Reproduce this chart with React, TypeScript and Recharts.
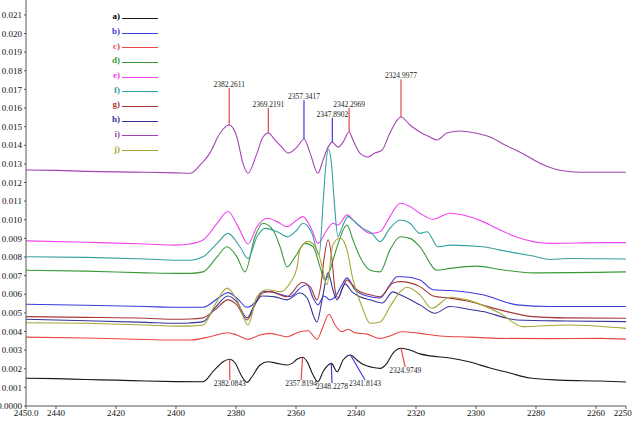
import { LineChart, Line, XAxis, YAxis, Legend, ReferenceLine, ReferenceDot } from "recharts";

type Pt = [number, number];

// [wavenumber cm-1, absorbance x10^3]
const spectrumA: Pt[] = [
  [2450, 1.49], [2440, 1.47], [2430, 1.42], [2420, 1.39], [2410, 1.34], [2400, 1.31], [2391, 1.3],
  [2387.7, 1.84], [2384.3, 2.38], [2382.1, 2.51], [2380.3, 2.31], [2378, 1.57], [2376.3, 1.27],
  [2374.7, 1.57], [2372, 2.2], [2369.3, 2.38], [2366.3, 2.29], [2363, 2.2], [2361.3, 2.29],
  [2359.7, 2.51], [2357.8, 2.62], [2356.3, 2.38], [2354.3, 1.66], [2352.7, 1.3], [2351, 1.84],
  [2348.2, 2.29], [2346.3, 1.84], [2344.3, 2.47], [2341.8, 2.74], [2339.7, 2.47], [2337.7, 2.24],
  [2334.7, 2.08], [2332, 2.02], [2329.7, 2.29], [2327.7, 2.83], [2325, 3.1], [2322, 3.01],
  [2318.7, 2.8], [2315.3, 2.69], [2308.7, 2.58], [2302, 2.36], [2295.3, 2.04], [2288.7, 1.77],
  [2282, 1.5], [2272, 1.39], [2258.7, 1.34], [2250, 1.29],
];

const spectrumB: Pt[] = [
  [2450, 5.46], [2430, 5.41], [2410, 5.34], [2400, 5.3], [2395.3, 5.3], [2391, 5.3], [2385.3, 5.87],
  [2382.7, 6.09], [2379.7, 5.79], [2376.3, 5.3], [2373, 5.7], [2371.3, 6.14], [2368.7, 6.14],
  [2364.7, 5.97], [2362, 5.87], [2358, 6.41], [2356.3, 6.51], [2354.3, 5.8], [2352.7, 5.43],
  [2350.7, 5.91], [2348.7, 5.7], [2346.7, 5.91], [2344.7, 6.51], [2343, 6.88], [2340.3, 6.24],
  [2336.3, 5.91], [2332, 5.8], [2328.7, 6.51], [2326.3, 6.94], [2324.3, 6.94], [2318.7, 6.77],
  [2314.3, 6.24], [2308.7, 6.2], [2297.7, 5.97], [2286.3, 5.43], [2275.3, 5.34], [2250, 5.34],
];

const spectrumC: Pt[] = [
  [2450, 3.7], [2430, 3.65], [2410, 3.57], [2400, 3.54], [2395.3, 3.54], [2388.7, 3.72], [2382.7, 3.93],
  [2379.7, 3.81], [2376, 3.58], [2372, 3.81], [2368.7, 3.9], [2363, 3.72], [2358.7, 3.99], [2356, 4.04],
  [2353, 3.58], [2351, 4.26], [2349, 4.93], [2347, 4.35], [2344.7, 3.99], [2342.7, 4.12], [2340.3, 3.93],
  [2336.3, 3.86], [2332, 3.63], [2328.7, 3.76], [2324.7, 3.99], [2318.7, 3.9], [2312, 3.76],
  [2302, 3.7], [2292, 3.63], [2275.3, 3.62], [2258.7, 3.63], [2250, 3.59],
];

const spectrumD: Pt[] = [
  [2450, 7.29], [2430, 7.24], [2410, 7.15], [2400, 7.12], [2395.3, 7.12], [2391, 7.2], [2386.3, 8.01],
  [2383, 8.55], [2379.7, 8.01], [2377, 7.2], [2373.7, 9.09], [2371, 9.81], [2367.7, 9.45], [2365.3, 8.55],
  [2363, 7.47], [2360.3, 8.01], [2357, 8.73], [2354.3, 8.55], [2352, 7.47], [2350.3, 6.75], [2348.7, 7.29],
  [2346.3, 8.55], [2343, 9.72], [2341, 8.91], [2338.7, 8.01], [2335.3, 7.29], [2332, 7.2], [2328.7, 8.37],
  [2325.3, 9.09], [2322, 9.0], [2318.7, 8.55], [2313, 7.29], [2308.7, 7.39], [2299.7, 7.51],
  [2292, 7.33], [2281, 7.15], [2250, 7.2],
];

const spectrumE: Pt[] = [
  [2450, 8.87], [2430, 8.79], [2410, 8.7], [2400, 8.64], [2395.3, 8.7], [2391, 8.91], [2386.3, 9.81],
  [2382.7, 10.44], [2379.3, 9.63], [2376, 8.7], [2373, 9.63], [2369.7, 10.08], [2366.3, 9.9], [2363, 9.63],
  [2359.7, 9.99], [2357.7, 10.17], [2354.7, 9.45], [2352.7, 8.73], [2349.7, 9.45], [2347.7, 9.81],
  [2346, 9.72], [2343, 10.26], [2341, 9.99], [2338.7, 9.63], [2335.3, 9.27], [2332, 9.36], [2328.7, 10.17],
  [2325.3, 10.89], [2322, 10.71], [2318.7, 10.35], [2314.3, 10.03], [2308.7, 10.35], [2303, 10.2],
  [2297.7, 9.9], [2292, 9.45], [2286.3, 9.06], [2275.3, 8.73], [2258.7, 8.77], [2250, 8.77],
];

const spectrumF: Pt[] = [
  [2450, 8.01], [2430, 7.98], [2410, 7.89], [2400, 7.83], [2395.3, 7.83], [2391, 8.01], [2386.3, 8.73],
  [2382.7, 9.27], [2378.7, 8.55], [2376, 7.92], [2373, 9.09], [2370.3, 9.54], [2366.3, 9.36], [2362.7, 9.09],
  [2359.7, 9.45], [2357.7, 9.81], [2354.7, 9.27], [2352.3, 8.1], [2350.9, 11.07], [2350.1, 12.86],
  [2349.2, 13.8], [2348.1, 12.86], [2347.3, 11.07], [2346, 9.09], [2344.7, 9.56], [2342.7, 10.17],
  [2340.3, 9.88], [2337.7, 9.54], [2334.7, 9.27], [2332, 8.82], [2328.7, 9.54], [2325.3, 9.99], [2322, 9.81],
  [2318.7, 9.27], [2316.3, 9.36], [2312.7, 8.55], [2308.7, 8.64], [2297.7, 8.55], [2292, 8.37],
  [2281, 8.05], [2275.3, 7.87], [2269.7, 7.92], [2250, 7.89],
];

const spectrumG: Pt[] = [
  [2450, 4.8], [2430, 4.76], [2410, 4.71], [2400, 4.66], [2395.3, 4.67], [2391, 4.73], [2387, 5.16],
  [2382.7, 5.7], [2379.7, 5.43], [2376.3, 4.62], [2373.7, 5.43], [2371.3, 6.06], [2368.7, 6.14], [2363, 5.87],
  [2358, 6.63], [2355.3, 6.41], [2353, 5.7], [2351.7, 6.51], [2350.7, 7.85], [2349.3, 8.93], [2348, 7.85],
  [2347, 6.24], [2346, 5.8], [2344.7, 6.24], [2343, 6.77], [2341.3, 6.51], [2339.7, 6.24], [2335.3, 5.97],
  [2332, 5.87], [2327.7, 6.6], [2325.3, 6.68], [2318.7, 6.41], [2314.3, 5.91], [2308.7, 5.79], [2303, 5.64],
  [2292, 5.16], [2281, 4.8], [2269.7, 4.73], [2250, 4.71],
];

const spectrumH: Pt[] = [
  [2450, 4.66], [2430, 4.58], [2410, 4.49], [2400, 4.44], [2395.3, 4.46], [2391, 4.53], [2387, 5.27],
  [2382.7, 5.91], [2379.7, 5.59], [2376.3, 4.73], [2373.7, 5.48], [2371.3, 5.91], [2367, 5.86], [2363, 5.7],
  [2358.7, 6.07], [2356.3, 5.8], [2353, 4.51], [2351.3, 5.7], [2349.3, 7.15], [2347.7, 6.24], [2346.3, 5.7],
  [2343.7, 6.56], [2341.3, 6.13], [2338.7, 5.86], [2335.3, 5.7], [2331.3, 5.53], [2327.7, 6.13],
  [2325.3, 5.97], [2318.7, 5.43], [2313.7, 4.98], [2308.7, 5.34], [2303, 5.21], [2297.7, 5.07],
  [2286.3, 4.62], [2269.7, 4.56], [2250, 4.53],
];

const spectrumI: Pt[] = [
  [2450, 12.67], [2440, 12.65], [2430, 12.6], [2420, 12.57], [2410, 12.55], [2400, 12.52], [2395.3, 12.5],
  [2392, 12.93], [2388.7, 13.58], [2385.3, 14.66], [2382.3, 15.09], [2379.7, 14.44], [2377.7, 13.04],
  [2376, 12.5], [2373, 13.58], [2371, 14.44], [2369.2, 14.66], [2367, 14.28], [2364.7, 13.9], [2362.7, 13.58],
  [2359.7, 13.9], [2357.3, 14.34], [2355.3, 13.58], [2352.7, 12.5], [2351, 13.2], [2349.3, 13.9],
  [2347.9, 14.17], [2346, 13.9], [2344.3, 14.17], [2342.3, 14.71], [2341, 14.28], [2338.7, 13.58],
  [2336, 13.37], [2333.7, 13.58], [2331.3, 13.74], [2328.7, 14.66], [2325, 15.52], [2322, 15.09],
  [2318.7, 14.71], [2315.3, 14.44], [2313, 14.28], [2309.7, 14.66], [2305.3, 14.77], [2300.3, 14.66],
  [2295.3, 14.44], [2290.3, 14.01], [2285.3, 13.63], [2278.7, 13.04], [2272, 12.66], [2265.3, 12.55],
  [2250, 12.55],
];

const spectrumJ: Pt[] = [
  [2450, 4.47], [2430, 4.44], [2410, 4.35], [2400, 4.29], [2395.3, 4.29], [2391, 4.35], [2387, 5.43],
  [2383, 6.33], [2379.7, 5.7], [2376, 4.35], [2373, 5.87], [2369.7, 6.24], [2365, 6.14], [2362, 6.6],
  [2359.7, 7.4], [2358.7, 8.39], [2356, 8.84], [2353, 8.39], [2351.3, 7.49], [2349.7, 6.51], [2347.7, 8.66],
  [2345.3, 9.02], [2343, 8.39], [2341, 6.77], [2338, 5.33], [2335.3, 4.44], [2332, 4.51], [2328.7, 5.33],
  [2325.3, 6.13], [2323, 6.38], [2318.7, 5.97], [2314.7, 5.25], [2308.7, 5.84], [2303, 5.7], [2292, 4.98],
  [2284.3, 4.26], [2269.7, 4.35], [2250, 4.17],
];

const wnTicks = [2450, 2440, 2420, 2400, 2380, 2360, 2340, 2320, 2300, 2280, 2260, 2250];
const absTicks = [
  0, 0.001, 0.002, 0.003, 0.004, 0.005, 0.006, 0.007, 0.008, 0.009, 0.01,
  0.011, 0.012, 0.013, 0.014, 0.015, 0.016, 0.017, 0.018, 0.019, 0.02, 0.021,
];

// peak positions marked on the i) and a) traces
const upperPeaks = [2382.2611, 2369.2191, 2357.3417, 2347.8902, 2342.2969, 2324.9977];
const lowerPeaks = [2382.0843, 2357.8194, 2348.2278, 2341.8143, 2324.9749];

const RED = "#e5484a";
const BLUE = "#3b3be0";
const FONT = '"Liberation Serif", "Times New Roman", serif';

const series = [
  { name: "a)", points: spectrumA, color: "#1a1a1a" },
  { name: "b)", points: spectrumB, color: "#3c3cdc" },
  { name: "c)", points: spectrumC, color: "#e84545" },
  { name: "d)", points: spectrumD, color: "#3a9a3a" },
  { name: "e)", points: spectrumE, color: "#ee44ee" },
  { name: "f)", points: spectrumF, color: "#35a0a0" },
  { name: "g)", points: spectrumG, color: "#a83838" },
  { name: "h)", points: spectrumH, color: "#35359a" },
  { name: "i)", points: spectrumI, color: "#a443b4" },
  { name: "j)", points: spectrumJ, color: "#a6a638" },
];

// callout geometry: line end height (x10^3) and where the line ends on the x axis
const upperCallouts = [
  { color: RED, top: 17.07 },
  { color: RED, top: 16.0 },
  { color: BLUE, top: 16.42 },
  { color: BLUE, top: 15.46 },
  { color: RED, top: 16.0 },
  { color: RED, top: 17.55 },
];
const lowerCallouts = [
  { color: RED, end: 2382.0843, bottom: 1.4 },
  { color: RED, end: 2358.3, bottom: 1.4 },
  { color: BLUE, end: 2348.0, bottom: 1.23 },
  { color: BLUE, end: 2337.0, bottom: 1.4 },
  { color: RED, end: 2323.6, bottom: 2.09 },
];

const toRows = (pts: Pt[]) => pts.map(([wn, milli]) => ({ wn, abs: milli / 1000 }));

const heightAt = (pts: Pt[], wn: number) => {
  let best = pts[0];
  for (const p of pts) if (Math.abs(p[0] - wn) < Math.abs(best[0] - wn)) best = p;
  return best[1] / 1000;
};

function SeriesKey({ payload }: any) {
  return (
    <div style={{ fontFamily: FONT, fontSize: 9, fontWeight: "bold" }}>
      {(payload ?? []).map((item: any) => (
        <div key={item.value} style={{ display: "flex", alignItems: "center", height: 14.7 }}>
          <span style={{ width: 20, textAlign: "right", color: item.value === "a)" ? "#000" : item.color }}>
            {item.value}
          </span>
          <span style={{ width: 36, height: 4, marginLeft: 2, borderBottom: `1px solid ${item.color}` }} />
        </div>
      ))}
    </div>
  );
}

const tickStyle = { fontSize: 9, fill: "#111", fontFamily: FONT };

export default function App() {
  return (
    <div style={{ position: "fixed", left: 0, top: 0, width: 632, height: 426, background: "#fff" }}>
      <LineChart width={632} height={426} margin={{ top: 0, right: 6, bottom: 0, left: 0 }}>
        <XAxis
          dataKey="wn"
          type="number"
          domain={[2250, 2450]}
          reversed
          ticks={wnTicks}
          interval={0}
          tickFormatter={(v: number) => (v === 2450 || v === 2250 ? v.toFixed(1) : String(v))}
          tick={tickStyle}
          tickSize={3}
          tickMargin={1}
          height={20}
          stroke="#555"
          allowDataOverflow
        />
        <YAxis
          type="number"
          domain={[0, 0.0218]}
          ticks={absTicks}
          interval={0}
          tickFormatter={(v: number) => (v === 0 ? "0.0000" : v.toFixed(3))}
          tick={tickStyle}
          tickSize={2}
          tickMargin={2}
          width={26}
          stroke="#555"
          allowDataOverflow
        />
        <Legend
          content={SeriesKey}
          layout="vertical"
          align="center"
          verticalAlign="middle"
          wrapperStyle={{ left: 100, top: 9, width: 60 }}
        />
        {series.map((s) => (
          <Line
            key={s.name}
            name={s.name}
            data={toRows(s.points)}
            dataKey="abs"
            type="monotone"
            stroke={s.color}
            strokeWidth={1.1}
            dot={false}
            activeDot={false}
            isAnimationActive={false}
          />
        ))}
        {upperPeaks.map((wn, i) => (
          <ReferenceLine
            key={`u${wn}`}
            segment={[
              { x: wn, y: heightAt(spectrumI, wn) },
              { x: wn, y: upperCallouts[i].top / 1000 },
            ]}
            stroke={upperCallouts[i].color}
            strokeWidth={1.2}
            ifOverflow="visible"
          />
        ))}
        {upperPeaks.map((wn, i) => (
          <ReferenceDot
            key={`ut${wn}`}
            x={wn}
            y={upperCallouts[i].top / 1000}
            r={0}
            fill="none"
            stroke="none"
            ifOverflow="visible"
            label={{ value: wn.toFixed(4), position: "top", offset: 1, fontSize: 7.5, fill: "#222", fontFamily: FONT }}
          />
        ))}
        {lowerPeaks.map((wn, i) => (
          <ReferenceLine
            key={`l${wn}`}
            segment={[
              { x: wn, y: heightAt(spectrumA, wn) },
              { x: lowerCallouts[i].end, y: lowerCallouts[i].bottom / 1000 },
            ]}
            stroke={lowerCallouts[i].color}
            strokeWidth={1.2}
            ifOverflow="visible"
          />
        ))}
        {lowerPeaks.map((wn, i) => (
          <ReferenceDot
            key={`lt${wn}`}
            x={lowerCallouts[i].end}
            y={lowerCallouts[i].bottom / 1000}
            r={0}
            fill="none"
            stroke="none"
            ifOverflow="visible"
            label={{ value: wn.toFixed(4), position: "bottom", offset: 1, fontSize: 7.5, fill: "#222", fontFamily: FONT }}
          />
        ))}
      </LineChart>
    </div>
  );
}
